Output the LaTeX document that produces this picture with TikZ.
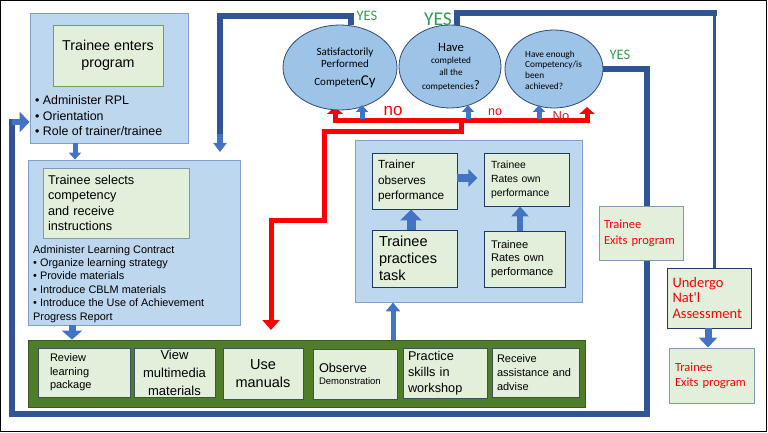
\documentclass[tikz,border=0pt]{standalone}
\usepackage{fontspec}
\setmainfont{Liberation Sans}
\newfontfamily\calfont{Carlito}
\usetikzlibrary{arrows.meta,shapes.geometric}
\pgfdeclarelayer{bg}
\pgfsetlayers{bg,main}
\definecolor{outerfill}{HTML}{BDD7EE}
\definecolor{outerdraw}{HTML}{7F9FCF}
\definecolor{pale}{HTML}{E2EFDA}
\definecolor{darkblue}{HTML}{2F5597}
\definecolor{arrblue}{HTML}{4472C4}
\definecolor{ellfill}{HTML}{9DC3E6}
\definecolor{ellline}{HTML}{2E4A7A}
\definecolor{barg}{HTML}{507D2A}
\definecolor{bardark}{HTML}{3A5A20}
\definecolor{yesg}{HTML}{2E9E4F}
\definecolor{redx}{HTML}{FF0000}
\definecolor{nored}{HTML}{CC2020}
\definecolor{boxgreen}{HTML}{6AA84F}
\definecolor{grayblue}{HTML}{8497B0}
\definecolor{slate}{HTML}{3F4F5F}
\definecolor{navy}{HTML}{203864}
\newcommand\fsz[2]{\fontsize{#1}{#2}\selectfont}
\tikzset{
  outerbox/.style={draw=outerdraw, fill=outerfill, line width=0.8pt, inner sep=0pt},
  pbox/.style={draw=#1, fill=pale, line width=0.9pt, inner sep=0pt},
  ell/.style={ellipse, draw=ellline, fill=ellfill, line width=0.8pt, inner sep=0pt},
  thickblue/.style={draw=darkblue, line width=6pt},
  barr/.style n args={3}{draw=arrblue, line width=#1, -{Triangle[width=#2,length=#3]}},
  redl/.style={draw=redx, line width=5pt},
  lbl/.style={inner sep=0pt},
}
\begin{document}
\begin{tikzpicture}[x=1pt,y=-1pt]
\useasboundingbox (0,0) rectangle (768,433);

% decision ellipses
\node[ell, minimum width=114pt, minimum height=85pt] (e1) at (340,67.5) {};
\node[ell, minimum width=102pt, minimum height=83pt] (e2) at (450,66.5) {};
\node[ell, minimum width=98pt, minimum height=78pt] (e3) at (554,69) {};
\node[lbl, align=center, font=\calfont\fsz{11}{12}] (e1t) at (345,68) {Satisfactorily\\Performed\\[5.7pt]Competen{\fsz{15}{15}Cy}};
\node[lbl, align=center, font=\calfont\fsz{9.2}{12}] (e2t) at (451,67.4) {{\fsz{12.7}{12}Have}\\completed\\all the\\[2pt]competencies{\fsz{13}{13}?}};
\node[lbl, anchor=west, align=left, font=\calfont\fsz{9.3}{10.7}] (e3t) at (525,70) {Have enough\\Competency/is\\been\\achieved?};

% box 1
\node[outerbox, minimum width=158pt, minimum height=130pt] (enter) at (109,78) {};
\node[pbox=boxgreen, minimum width=110pt, minimum height=61pt, align=center, font=\fsz{14.3}{16.5}] (enterin) at (108,55.5) {Trainee enters\\program};
\node[lbl, anchor=north west, align=left, font=\fsz{12.4}{15.5}] (entertxt) at (35,95.5) {• Administer RPL\\• Orientation\\• Role of trainer/trainee};

% box 2
\node[outerbox, minimum width=212pt, minimum height=165pt] (select) at (134,242.5) {};
\node[pbox=grayblue, minimum width=146pt, minimum height=70pt, text width=136pt, align=left, font=\fsz{12.7}{15.3}] (selectin) at (116,203) {Trainee selects\\competency\\and receive\\instructions};
\node[lbl, anchor=north west, align=left, font=\fsz{10.9}{13.4}] (selecttxt) at (33,245) {Administer Learning Contract\\• Organize learning strategy\\• Provide materials\\• Introduce CBLM materials\\• Introduce the Use of Achievement\\Progress Report};

% green bar
\node[draw=bardark, fill=barg, line width=0.8pt, minimum width=557pt, minimum height=67pt, inner sep=0pt] (bar) at (306.5,373.5) {};
\node[pbox=slate, minimum width=92pt, minimum height=49pt, text width=68pt, align=left, font=\fsz{11}{13.5}] (review) at (84,372.5) {Review\\learning\\package};
\node[pbox=slate, minimum width=81pt, minimum height=49pt, align=center, font=\fsz{13}{18}] (view) at (174.5,372.5) {View\\multimedia\\materials};
\node[pbox=slate, minimum width=80pt, minimum height=51pt, align=center, font=\fsz{14.5}{18}] (manuals) at (263,373.5) {Use\\manuals};
\node[pbox=slate, minimum width=84pt, minimum height=50pt, text width=72pt, align=left, font=\fsz{12.7}{12}] (observe) at (355,374) {Observe\\{\fsz{9.5}{12}Demonstration}};
\node[pbox=slate, minimum width=84pt, minimum height=50pt, text width=74pt, align=left, font=\fsz{12.7}{16}] (practice) at (445,373) {Practice\\skills in\\workshop};
\node[pbox=slate, minimum width=87pt, minimum height=49pt, text width=77pt, align=left, font=\fsz{11}{14}] (receive) at (535.5,372.5) {Receive\\assistance and\\advise};

% practice group
\node[outerbox, minimum width=227pt, minimum height=162pt] (group) at (468.5,221) {};
\node[pbox=navy, minimum width=85pt, minimum height=56pt, text width=73pt, align=left, font=\fsz{11.8}{15.5}] (observes) at (414.5,181) {Trainer\\observes\\performance};
\node[pbox=navy, minimum width=85pt, minimum height=53pt, text width=71pt, align=left, font=\fsz{10.4}{14}] (rates1) at (526.5,179.5) {Trainee\\Rates own\\performance};
\node[pbox=navy, minimum width=85pt, minimum height=57pt, text width=71pt, align=left, font=\fsz{14.5}{17}] (practices) at (414.5,258.5) {Trainee\\practices\\task};
\node[pbox=navy, minimum width=81pt, minimum height=56pt, text width=67pt, align=left, font=\fsz{11.1}{13.2}] (rates2) at (524.5,259) {Trainee\\Rates own\\performance};

% right column
\node[pbox=grayblue, minimum width=84pt, minimum height=54pt, text width=74pt, align=left, font=\calfont\fsz{12.5}{16}, text=redx] (midexit) at (641,233) {Trainee\\Exits program};
\node[pbox=navy, minimum width=84pt, minimum height=60pt, text width=73pt, align=left, font=\calfont\fsz{14.5}{15.5}, text=redx] (undergo) at (709,298) {Undergo\\Nat'l\\Assessment};
\node[pbox=grayblue, minimum width=85pt, minimum height=55pt, text width=73pt, align=left, font=\calfont\fsz{12.5}{15}, text=redx] (finalexit) at (711.5,375.5) {Trainee\\Exits program};

% labels
\node[lbl, font=\calfont\fsz{14.5}{15}, text=yesg] (yes1) at (367,16) {YES};
\node[lbl, font=\calfont\fsz{19.5}{20}, text=yesg] (yes2) at (438,19) {YES};
\node[lbl, font=\calfont\fsz{14.5}{15}, text=yesg] (yes3) at (620,55) {YES};
\node[lbl, font=\fsz{17}{17}, text=redx] (no1) at (393,111) {no};
\node[lbl, font=\fsz{12.5}{13}, text=redx] (no2) at (495,112) {no};
\node[lbl, font=\fsz{13}{13}, text=nored] (no3) at (561,116.5) {No};

% coordinates
\coordinate (tl) at (220,16);
\coordinate (tlend) at (220,134);
\coordinate (tlarr) at (220,152);
\coordinate (tr) at (714,13.5);
\coordinate (rc) at (647,414);
\coordinate (lc) at (11.5,414);
\coordinate (lt) at (11.5,122);
\coordinate (rj) at (461,121);
\coordinate (ra1) at (335,107);
\coordinate (ra3) at (587,107);
\coordinate (rb) at (324,132);
\coordinate (rc2) at (271,220);
\coordinate (rd) at (271,330);
\coordinate (u1) at (362,119);
\coordinate (u1t) at (362,105);
\coordinate (u2) at (468,119);
\coordinate (u2t) at (468,105);
\coordinate (u3) at (539,119);
\coordinate (u3t) at (539,105);
\coordinate (a1) at (75,0);
\coordinate (a2) at (72,0);
\coordinate (a3) at (393,0);
\coordinate (a4) at (411,0);
\coordinate (a5) at (0,178);
\coordinate (a6) at (520,0);
\coordinate (a7) at (708,0);

% connectors behind
\begin{pgfonlayer}{bg}
\fill[white] (0,0) rectangle (768,433);
\draw[black, line width=1pt] (0.8,0.8) rectangle (766.2,431.8);
\draw[thickblue] (e1.75) |- (tl) -- (tlend);
\draw[thickblue, line cap=rect] (e2.81) |- (tr);
\draw[darkblue, line width=3pt] (tr) -- (tr |- undergo.north);
\draw[thickblue, line cap=rect] (e3.east) -| (rc) -- (lc) -- (lt);
\draw[redl, -{Triangle[width=16pt,length=7pt]}] (rj) -| (ra1);
\draw[redl, -{Triangle[width=15pt,length=7pt]}] (rj) -| (ra3);
\draw[redl, -{Triangle[width=17pt,length=10pt]}] (rj) |- (rb) |- (rc2) -- (rd);
\end{pgfonlayer}

% block arrows
\draw[barr={6pt}{13pt}{9pt}] (tlend) -- (tlarr);
\draw[barr={6pt}{20pt}{10pt}] (lt) -- (lt -| enter.west);
\draw[barr={5pt}{12pt}{7pt}] (u1) -- (u1t);
\draw[barr={5pt}{12pt}{7pt}] (u2) -- (u2t);
\draw[barr={5pt}{12pt}{7pt}] (u3) -- (u3t);
\draw[barr={5pt}{12pt}{7pt}] (enter.south -| a1) -- (select.north -| a1);
\draw[barr={7pt}{20pt}{9pt}] (select.south -| a2) -- (bar.north -| a2);
\draw[barr={5pt}{14pt}{9pt}] (bar.north -| a3) -- (group.south -| a3);
\draw[barr={9pt}{21pt}{11pt}] (practices.north -| a4) -- (observes.south -| a4);
\draw[barr={8pt}{17pt}{9pt}] (observes.east |- a5) -- ++(20,0);
\draw[barr={6pt}{17pt}{10pt}] (rates2.north -| a6) -- (rates1.south -| a6);
\draw[barr={7pt}{18pt}{10pt}] (undergo.south -| a7) -- (finalexit.north -| a7);
\end{tikzpicture}
\end{document}
